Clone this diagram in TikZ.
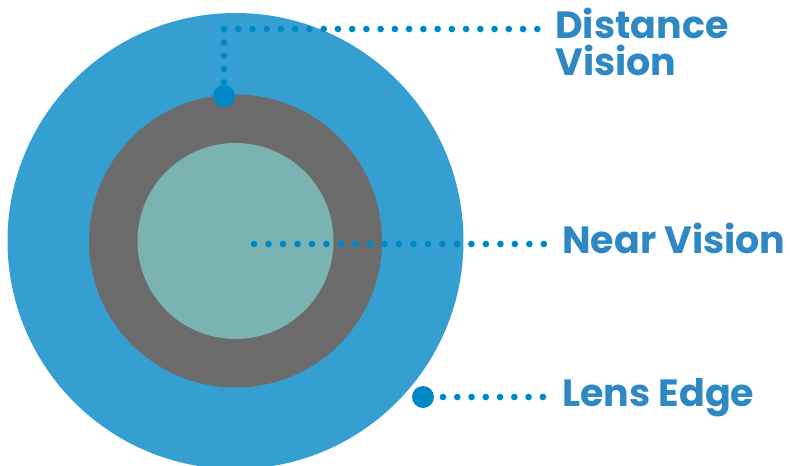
\documentclass[tikz,border=0pt]{standalone}
\usepackage{fontspec}
\setmainfont{Poppins}
\usetikzlibrary{positioning}

\definecolor{lensblue}{HTML}{359FD1}
\definecolor{ringgray}{HTML}{6B6B6B}
\definecolor{coreteal}{HTML}{7AB3B2}
\definecolor{dotblue}{HTML}{0088C6}
\definecolor{labelblue}{HTML}{2E88C4}

\tikzset{
  dotline/.style={dotblue, line width=5pt, line cap=round, dash pattern=on 0pt off #1},
  dotline/.default=10.7pt,
  bigdot/.style={circle, fill=dotblue, inner sep=0pt, minimum size=16.5pt},
  lenslabel/.style={labelblue, font=\fontsize{28.5}{28.5}\selectfont\bfseries, anchor=base west, inner sep=0pt}
}

\begin{document}
\begin{tikzpicture}[x=0.75pt,y=-0.75pt]
    \useasboundingbox (0,0) rectangle (790,465);

    % lens zones
    \fill[lensblue] (235.5,241) circle (228);
    \fill[ringgray] (235.5,241) circle (146.5);
    \fill[coreteal] (235.5,241) circle (98);

    % distance vision
    \node[bigdot] (ddot) at (224,96) {};
    \coordinate (dcorner) at (224,29);
    \coordinate (dend) at (538.5,29);
    \draw[dotline=10.68pt] (dcorner) -- (dend);
    \draw[dotline=10pt] (dcorner) -- (ddot.north);
    \node[lenslabel] (dist) at (555,38) {Distance};
    \node[lenslabel] (vis) at (555,75) {Vision};

    % near vision
    \coordinate (nstart) at (254,244);
    \coordinate (nend) at (544.5,244);
    \draw[dotline=10.87pt] (nstart) -- (nend);
    \node[lenslabel] (near) at (562,253) {Near Vision};

    % lens edge
    \node[bigdot] (edot) at (423,397) {};
    \coordinate (estart) at (443,397);
    \coordinate (eend) at (543.5,397);
    \draw[dotline=10.7pt] (estart) -- (eend);
    \node[lenslabel] (edge) at (562,406) {Lens Edge};
\end{tikzpicture}
\end{document}
